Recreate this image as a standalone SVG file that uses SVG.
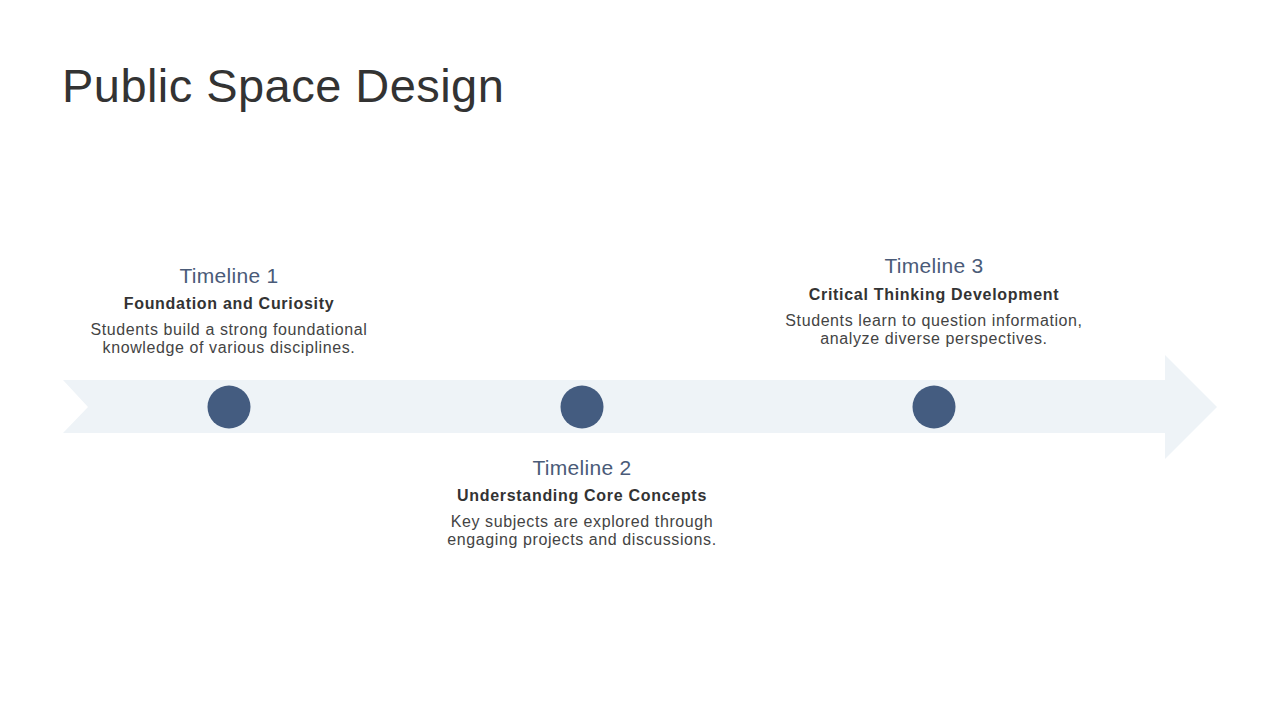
<svg xmlns="http://www.w3.org/2000/svg" width="1280" height="720" viewBox="0 0 1280 720">
<style>
.title{font-family:"Liberation Sans",Arial,sans-serif;font-size:47px;fill:#333333;letter-spacing:0.45px}
.tl{font-family:"Liberation Sans",Arial,sans-serif;font-size:21px;fill:#4a5b78;text-anchor:middle;letter-spacing:0.3px}
.sub{font-family:"Liberation Sans",Arial,sans-serif;font-size:16px;font-weight:bold;fill:#333333;text-anchor:middle;letter-spacing:0.7px}
.desc{font-family:"Liberation Sans",Arial,sans-serif;font-size:16px;fill:#444444;text-anchor:middle;letter-spacing:0.6px}
.dot{fill:#445c80}
</style>
<rect width="1280" height="720" fill="#ffffff"/>
<text class="title" x="62" y="102">Public Space Design</text>
<g id="connectors">
<path d="M63,380 L1165,380 L1165,355 L1217,407 L1165,459 L1165,433 L63,433 L88,407 Z" fill="#eef3f7"/>
</g>
<g id="node1">
<circle class="dot" cx="229" cy="407" r="21.5"/>
<text class="tl" x="229" y="283">Timeline 1</text>
<text class="sub" x="229" y="309">Foundation and Curiosity</text>
<text class="desc" x="229" y="334.5">Students build a strong foundational</text>
<text class="desc" x="229" y="352.5">knowledge of various disciplines.</text>
</g>
<g id="node2">
<circle class="dot" cx="582" cy="407" r="21.5"/>
<text class="tl" x="582" y="475">Timeline 2</text>
<text class="sub" x="582" y="501">Understanding Core Concepts</text>
<text class="desc" x="582" y="526.5">Key subjects are explored through</text>
<text class="desc" x="582" y="544.5">engaging projects and discussions.</text>
</g>
<g id="node3">
<circle class="dot" cx="934" cy="407" r="21.5"/>
<text class="tl" x="934" y="273">Timeline 3</text>
<text class="sub" x="934" y="300">Critical Thinking Development</text>
<text class="desc" x="934" y="325.5">Students learn to question information,</text>
<text class="desc" x="934" y="343.5">analyze diverse perspectives.</text>
</g>
</svg>
